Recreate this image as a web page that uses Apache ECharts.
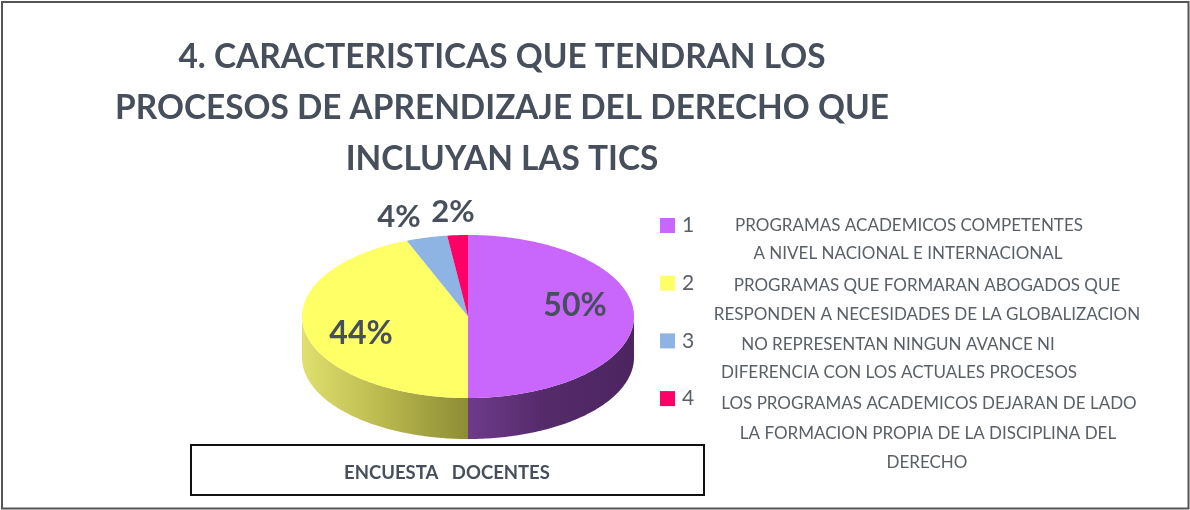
<!DOCTYPE html>
<html>
<head>
<meta charset="utf-8">
<title>Encuesta docentes</title>
<script src="https://cdn.jsdelivr.net/npm/echarts@6/dist/echarts.min.js"></script>
<style>
  html, body { margin: 0; padding: 0; background: #fff; }
  #chart { width: 1190px; height: 510px; }
</style>
</head>
<body>
<div id="chart"></div>
<script>
const titleLines = [
  '4. CARACTERISTICAS QUE TENDRAN LOS',
  'PROCESOS DE APRENDIZAJE DEL DERECHO QUE',
  'INCLUYAN LAS TICS'
]
const categories = ['1', '2', '3', '4']
const percentages = [50, 44, 4, 2]
const sliceColors = ['#c966fb', '#ffff66', '#8db4e2', '#ff0066']
const descriptionLines = [
  'PROGRAMAS ACADEMICOS COMPETENTES',
  'A NIVEL NACIONAL E INTERNACIONAL',
  'PROGRAMAS QUE FORMARAN ABOGADOS QUE',
  'RESPONDEN A NECESIDADES DE LA GLOBALIZACION',
  'NO REPRESENTAN NINGUN AVANCE NI',
  'DIFERENCIA CON LOS ACTUALES PROCESOS',
  'LOS PROGRAMAS ACADEMICOS DEJARAN DE LADO',
  'LA FORMACION PROPIA DE LA DISCIPLINA DEL',
  'DERECHO'
]
const footerText = 'ENCUESTA   DOCENTES'

// layout of the tilted pie
const pie = { cx: 468, cy: 316.5, rx: 166, ry: 81.5, depth: 41 }
const descriptionPos = [[909, 226], [908, 254], [927, 286], [927, 315], [898, 345], [899, 373], [929, 404], [928, 434], [927, 463]]
const labelPos = [[575, 306], [361, 334], [399, 217], [453, 212]]
const wallFills = [
  ['#6f3a8a', '#552b6a', '#4c2560'],
  ['#e0e070', '#bcbc50', '#8e8c36']
]
const textColor = '#464f5b'
const fontFamily = 'Lato, "Open Sans", sans-serif'

const total = percentages.reduce((a, b) => a + b, 0)

function rimPoint(deg, drop) {
  const t = deg * Math.PI / 180
  return [pie.cx + pie.rx * Math.sin(t), pie.cy - pie.ry * Math.cos(t) + drop]
}

function arcPoints(from, to, drop) {
  const pts = []
  const steps = Math.max(2, Math.ceil(Math.abs(to - from)))
  for (let i = 0; i <= steps; i++) {
    pts.push(rimPoint(from + (to - from) * i / steps, drop))
  }
  return pts
}

let sum = 0
const series = percentages.map((value, index) => {
  const start = sum / total * 360
  sum += value
  const end = sum / total * 360
  return {
    type: 'custom',
    name: categories[index],
    coordinateSystem: 'none',
    silent: true,
    animation: false,
    itemStyle: { color: sliceColors[index] },
    data: [value],
    renderItem: () => {
      const children = []
      const wallFrom = Math.max(start, 90)
      const wallTo = Math.min(end, 270)
      if (wallTo > wallFrom) {
        const stops = wallFills[index]
        children.push({
          type: 'polygon',
          shape: { points: arcPoints(wallFrom, wallTo, 0).concat(arcPoints(wallTo, wallFrom, pie.depth)) },
          style: {
            fill: new echarts.graphic.LinearGradient(0, 0, 1, 0, [
              { offset: 0, color: stops[0] },
              { offset: 0.45, color: stops[1] },
              { offset: 1, color: stops[2] }
            ])
          }
        })
      }
      children.push({
        type: 'polygon',
        shape: { points: [[pie.cx, pie.cy]].concat(arcPoints(start, end, 0)) },
        style: { fill: sliceColors[index] }
      })
      children.push({
        type: 'text',
        z2: 10,
        style: {
          text: value + '%',
          x: labelPos[index][0],
          y: labelPos[index][1],
          fill: textColor,
          font: 'bold ' + (index < 2 ? 32 : 31) + 'px ' + fontFamily,
          align: 'center',
          verticalAlign: 'middle'
        }
      })
      return { type: 'group', children }
    }
  }
})

const graphicItems = [
  {
    type: 'rect',
    shape: { x: 2, y: 2, width: 1186.5, height: 506.5 },
    style: { fill: 'none', stroke: '#555', lineWidth: 2 }
  },
  {
    type: 'rect',
    shape: { x: 191, y: 445, width: 513, height: 50 },
    style: { fill: '#fff', stroke: '#111', lineWidth: 2 }
  },
  {
    type: 'text',
    style: {
      text: footerText, x: 447, y: 473, fill: textColor,
      font: 'bold 18.5px ' + fontFamily, align: 'center', verticalAlign: 'middle'
    }
  }
]
descriptionLines.forEach((line, i) => {
  graphicItems.push({
    type: 'text',
    style: {
      text: line,
      x: descriptionPos[i][0],
      y: descriptionPos[i][1],
      fill: '#596068',
      font: '17px ' + fontFamily,
      align: 'center',
      verticalAlign: 'middle'
    }
  })
})

const chart = echarts.init(document.getElementById('chart'))
chart.setOption({
  backgroundColor: '#fff',
  animation: false,
  title: {
    text: titleLines.join('\n'),
    left: 497,
    top: 27,
    textAlign: 'center',
    textStyle: { color: textColor, fontFamily, fontWeight: 'bold', fontSize: 33.4, lineHeight: 51 }
  },
  legend: {
    orient: 'vertical',
    left: 660,
    top: 215,
    icon: 'rect',
    itemWidth: 15,
    itemHeight: 15,
    itemGap: 36.7,
    padding: 0,
    selectedMode: false,
    data: categories,
    textStyle: { color: '#596068', fontFamily, fontSize: 21, padding: [0, 0, 0, 2] }
  },
  series,
  graphic: graphicItems
})

window.addEventListener('resize', () => chart.resize())
</script>
</body>
</html>
